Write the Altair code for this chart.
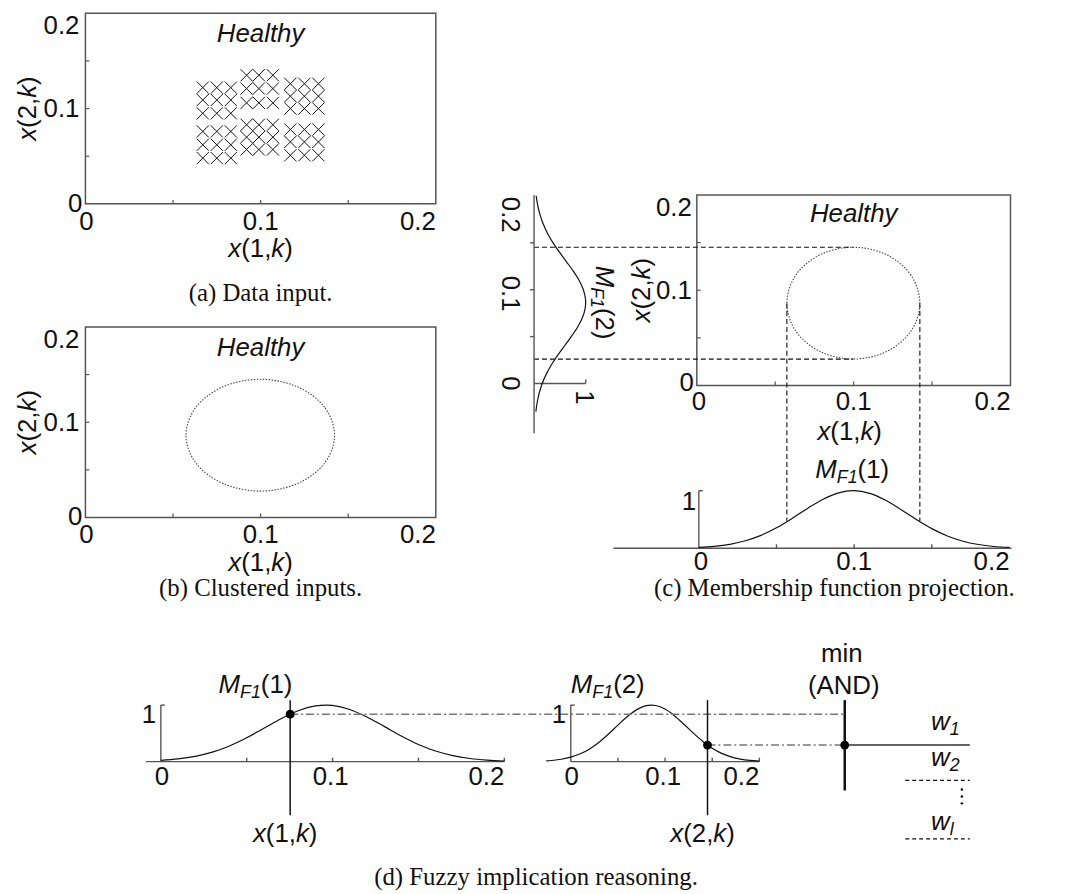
import altair as alt
import pandas as pd

# ---------------- values ----------------
# (a) data input: three column groups, each with an upper and a lower block of samples
grp_x = [[0.067, 0.075, 0.083], [0.092, 0.099, 0.107], [0.117, 0.125, 0.133]]
grp_y = [[0.122, 0.109, 0.095, 0.076, 0.062, 0.048],
         [0.135, 0.121, 0.106, 0.083, 0.070, 0.057],
         [0.126, 0.113, 0.100, 0.078, 0.065, 0.051]]

# cluster boundary (outline points, closed)
ell_x = [0.1422, 0.1365, 0.1210, 0.0998, 0.0786, 0.0631, 0.0574, 0.0631, 0.0786, 0.0998, 0.1210, 0.1365]
ell_y = [0.0864, 0.1158, 0.1372, 0.1451, 0.1372, 0.1158, 0.0864, 0.0570, 0.0356, 0.0277, 0.0356, 0.0570]
ell_cx, ell_cy = 0.0998, 0.0864

# (c) projected membership of x(1,k)
mf1c_x = [0.00, 0.01, 0.02, 0.03, 0.04, 0.05, 0.06, 0.07, 0.08, 0.09, 0.10,
          0.11, 0.12, 0.13, 0.14, 0.15, 0.16, 0.17, 0.18, 0.19, 0.20]
mf1c_mu = [0.015, 0.034, 0.069, 0.130, 0.224, 0.355, 0.517, 0.692, 0.852, 0.963, 1.000,
           0.954, 0.837, 0.675, 0.500, 0.341, 0.213, 0.122, 0.065, 0.031, 0.014]
mf1c_at_edge = 0.47

# (c) projected membership of x(2,k) (drawn vertically)
mf2c_x = [-0.03, -0.02, -0.01, 0.00, 0.01, 0.02, 0.03, 0.04, 0.05, 0.06, 0.07, 0.08,
          0.09, 0.10, 0.11, 0.12, 0.13, 0.14, 0.15, 0.16, 0.17, 0.18, 0.19, 0.20]
mf2c_mu = [0.035, 0.061, 0.101, 0.158, 0.237, 0.337, 0.456, 0.588, 0.721, 0.842, 0.936, 0.990,
           0.997, 0.955, 0.872, 0.757, 0.625, 0.492, 0.368, 0.262, 0.178, 0.115, 0.071, 0.041]

# (d) membership functions
mf1d_x = [0.00, 0.01, 0.02, 0.03, 0.04, 0.05, 0.06, 0.07, 0.08, 0.09, 0.10,
          0.11, 0.12, 0.13, 0.14, 0.15, 0.16, 0.17, 0.18, 0.19, 0.20]
mf1d_mu = [0.023, 0.049, 0.095, 0.169, 0.278, 0.422, 0.589, 0.759, 0.901, 0.985, 0.994,
           0.923, 0.790, 0.624, 0.454, 0.304, 0.188, 0.107, 0.056, 0.027, 0.012]
mf2d_x = [-0.026, -0.02, -0.01, 0.00, 0.01, 0.02, 0.03, 0.04, 0.05, 0.06, 0.07, 0.08,
          0.09, 0.10, 0.11, 0.12, 0.13, 0.14, 0.15, 0.16, 0.17, 0.18, 0.19, 0.20]
mf2d_mu = [0.014, 0.021, 0.043, 0.080, 0.139, 0.226, 0.344, 0.488, 0.646, 0.798, 0.920, 0.990,
           0.993, 0.930, 0.812, 0.662, 0.504, 0.358, 0.237, 0.146, 0.084, 0.045, 0.023, 0.011]
x1k, mu1 = 0.0753, 0.84
x2k, mu2 = 0.145, 0.293
w_min = min(mu1, mu2)

frame_ticks = [0.05, 0.1, 0.15]
mf_ticks = [0.05, 0.1, 0.15, 0.2]
tick_text = ["0", "0.1", "0.2"]

# ---------------- layout ----------------
M = 8
W, H = 1076, 886
FS, SUB_FS, SUB_DY = 26, 18, 5
SANS, SERIF = "Liberation Sans", "Liberation Serif"
INK, AXIS = "#111111", "#555555"


class Panel:
    n = 0

    def __init__(self, xd, xr, yd, yr):
        self.xd, self.xr, self.yd, self.yr = xd, xr, yd, yr
        Panel.n += 1
        self.name = "p%d" % Panel.n

    def px(self, v):
        return self.xr[0] + (v - self.xd[0]) * (self.xr[1] - self.xr[0]) / (self.xd[1] - self.xd[0])

    def py(self, v):
        return self.yr[0] + (v - self.yd[0]) * (self.yr[1] - self.yr[0]) / (self.yd[1] - self.yd[0])

    def vx(self, p):
        return self.xd[0] + (p - self.xr[0]) * (self.xd[1] - self.xd[0]) / (self.xr[1] - self.xr[0])

    def vy(self, p):
        return self.yd[0] + (p - self.yr[0]) * (self.yd[1] - self.yd[0]) / (self.yr[1] - self.yr[0])

    def enc(self, two=False):
        e = {
            "x": alt.X("x:Q", axis=None, scale=alt.Scale(domain=list(self.xd), range=[self.xr[0] - M, self.xr[1] - M], zero=False, nice=False)),
            "y": alt.Y("y:Q", axis=None, scale=alt.Scale(domain=list(self.yd), range=[self.yr[0] - M, self.yr[1] - M], zero=False, nice=False)),
        }
        if two:
            e["x2"] = alt.X2("x2:Q")
            e["y2"] = alt.Y2("y2:Q")
        return e


PA = Panel((0, 0.2), (86, 439), (0, 0.2), (202, 10))
PB = Panel((0, 0.2), (86, 439), (0, 0.2), (518, 326))
PC = Panel((0, 0.2), (702, 1018), (0, 0.2), (385, 193))
PL = Panel((0, 1), (538, 590), (0, 0.2), (383, 194))
PM = Panel((0, 0.2), (704, 1017), (0, 1), (549, 491))
D1 = Panel((0, 0.2), (162, 508), (0, 1), (764, 707))
D2 = Panel((0, 0.2), (575, 765), (0, 1), (764, 707))
D3 = Panel((0, 1), (851, 977), (0, 1), (764, 707))

layers = []


def rules(panel, segs, color=INK, width=1.0, dash=None):
    df = pd.DataFrame(segs, columns=["x", "y", "x2", "y2"])
    kw = dict(color=color, strokeWidth=width)
    if dash:
        kw["strokeDash"] = dash
    layers.append(alt.Chart(df).mark_rule(**kw).encode(**panel.enc(two=True)))


def curve(panel, xs, ys, color=INK, width=1.2, dash=None, interp="cardinal"):
    df = pd.DataFrame({"x": xs, "y": ys, "i": list(range(len(xs)))})
    kw = dict(color=color, strokeWidth=width, interpolate=interp)
    if dash:
        kw["strokeDash"] = dash
    layers.append(alt.Chart(df).mark_line(**kw).encode(order=alt.Order("i:Q"), **panel.enc()))


def dots(panel, xs, ys, size=80):
    df = pd.DataFrame({"x": xs, "y": ys})
    layers.append(alt.Chart(df).mark_circle(size=size, color="#000000", opacity=1).encode(**panel.enc()))


def xticks(panel, vals, up=4):
    y1 = panel.vy(panel.py(0) - up)
    return [(v, 0, v, y1) for v in vals]


def yticks(panel, vals, right=4):
    x1 = panel.vx(panel.px(0) + right)
    return [(0, v, x1, v) for v in vals]


def frame(panel):
    df = pd.DataFrame({"x": [0], "x2": [0.2], "y": [0], "y2": [0.2]})
    layers.append(alt.Chart(df).mark_rect(filled=False, color=AXIS, strokeWidth=1.5).encode(**panel.enc(two=True)))
    rules(panel, xticks(panel, frame_ticks) + yticks(panel, frame_ticks), color=AXIS, width=1.2)


# ---------------- text helper ----------------
AW = {"0": .556, "1": .556, "2": .556, ".": .278, ",": .278, "(": .333, ")": .333, "x": .5, "k": .5,
      "M": .833, "F": .611, "w": .722, "l": .222, " ": .278}
DIRS = {0: ((1, 0), (0, 1)), 90: ((0, 1), (-1, 0)), 270: ((0, -1), (1, 0))}
text_rows = []


def tw(s, fs):
    return sum(AW.get(c, .556) for c in s) * fs


def label(panel, ax, ay, segs, dx=0, dy=0, align="center", angle=0, font=SANS):
    if isinstance(segs, str):
        segs = [(segs, False, False)]
    (tx, ty), (nx, ny) = DIRS[angle]
    bx, by = panel.px(ax) + dx, panel.py(ay) + dy
    if len(segs) == 1:
        t, it, sub = segs[0]
        text_rows.append(dict(p=panel, x=panel.vx(bx), y=panel.vy(by), text=t, it=it, sub=sub,
                              angle=angle, align=align, font=font))
        return
    widths = [tw(t, SUB_FS if sub else FS) for t, it, sub in segs]
    total = sum(widths)
    off = {"left": 0, "center": -total / 2, "right": -total}[align]
    for (t, it, sub), w in zip(segs, widths):
        s = SUB_DY if sub else 0
        X = bx + off * tx + s * nx
        Y = by + off * ty + s * ny
        text_rows.append(dict(p=panel, x=panel.vx(X), y=panel.vy(Y), text=t, it=it, sub=sub,
                              angle=angle, align="left", font=font))
        off += w


def xk(i):
    return [("x", True, False), ("(%d," % i, False, False), ("k", True, False), (")", False, False)]


def mf(i):
    return [("M", True, False), ("F1", True, True), ("(%d)" % i, False, False)]


# ---------------- (a) data input ----------------
frame(PA)
px_, py_ = [], []
for gx, gy in zip(grp_x, grp_y):
    for xv in gx:
        for yv in gy:
            px_.append(xv)
            py_.append(yv)
layers.append(alt.Chart(pd.DataFrame({"x": px_, "y": py_})).mark_point(
    shape="M-1,-1L1,1M-1,1L1,-1", size=150, filled=False, color=INK, strokeWidth=1, opacity=1
).encode(**PA.enc()))

# ---------------- (b) clustered inputs ----------------
frame(PB)
curve(PB, ell_x, ell_y, color="#444444", width=1.1, dash=[1.5, 1.5], interp="cardinal-closed")

# ---------------- (c) projection ----------------
frame(PC)
curve(PC, ell_x, ell_y, color="#444444", width=1.1, dash=[1.5, 1.5], interp="cardinal-closed")
top_i, bot_i = ell_y.index(max(ell_y)), ell_y.index(min(ell_y))
left_i, right_i = ell_x.index(min(ell_x)), ell_x.index(max(ell_x))
x_start = PC.vx(PL.px(0))
y_end = PC.vy(PM.py(mf1c_at_edge))
rules(PC, [(x_start, ell_y[top_i], ell_x[top_i], ell_y[top_i]),
           (x_start, ell_y[bot_i], ell_x[bot_i], ell_y[bot_i]),
           (ell_x[left_i], ell_cy, ell_x[left_i], y_end),
           (ell_x[right_i], ell_cy, ell_x[right_i], y_end)], color=INK, width=1.1, dash=[5, 3])

# left (vertical) membership of x(2,k)
rules(PL, [(0, PL.vy(193), 0, PL.vy(433)), (0, 0, 1, 0), (1, 0, 1, PL.vy(PL.py(0) - 4))]
      + [(0, v, PL.vx(PL.px(0) - 4), v) for v in frame_ticks], color=AXIS, width=1.4)
curve(PL, mf2c_mu, mf2c_x, width=1.2)

# bottom membership of x(1,k)
rules(PM, [(PM.vx(618), 0, PM.vx(1019), 0), (0, 0, 0, 1), (0, 1, PM.vx(PM.px(0) + 4), 1)]
      + xticks(PM, frame_ticks), color=AXIS, width=1.4)
curve(PM, mf1c_x, mf1c_mu, width=1.2)

# ---------------- (d) fuzzy implication ----------------
for P, lo in ((D1, D1.vx(147)), (D2, 0)):
    rules(P, [(lo, 0, 0.2, 0), (0, 0, 0, 1), (0, 1, P.vx(P.px(0) + 4), 1)] + xticks(P, mf_ticks),
          color=AXIS, width=1.4)
curve(D1, mf1d_x, mf1d_mu, width=1.2)
curve(D2, mf2d_x, mf2d_mu, width=1.2)

rules(D3, [(D3.vx(D1.px(x1k)), mu1, 0, mu1), (D3.vx(D2.px(x2k)), mu2, 0, mu2)],
      color="#777777", width=1.5, dash=[8, 3, 2, 3])
rules(D1, [(x1k, D1.vy(702), x1k, D1.vy(818))], color=INK, width=1.5)
rules(D2, [(x2k, D2.vy(702), x2k, D2.vy(818))], color=INK, width=1.5)
rules(D3, [(0, w_min, 1, w_min)], color="#666666", width=2)
rules(D3, [(0, D3.vy(702), 0, D3.vy(793))], color=INK, width=2.5)
w_rows = [D3.py(w_min) + 35.5, D3.py(w_min) + 94.5]
rules(D3, [(D3.vx(912), D3.vy(r), 1, D3.vy(r)) for r in w_rows], color=INK, width=1.1, dash=[4, 3])
dots(D3, [D3.vx(969)] * 3, [D3.vy(792), D3.vy(799), D3.vy(806)], size=6)
dots(D1, [x1k], [mu1])
dots(D2, [x2k], [mu2])
dots(D3, [0], [w_min])

# ---------------- texts ----------------
for P, cap, cap_dy in ((PA, "(a) Data input.", 98), (PB, "(b) Clustered inputs.", 79)):
    label(P, 0, 0.2, tick_text[2], dx=-6, dy=21, align="right")
    label(P, 0, 0.1, tick_text[1], dx=-6, dy=9, align="right")
    label(P, 0, 0, tick_text[0], dx=-3, dy=8, align="right")
    label(P, 0, 0, tick_text[0], dx=1, dy=26)
    label(P, 0.1, 0, tick_text[1], dy=26)
    label(P, 0.2, 0, tick_text[2], dy=26, align="right")
    label(P, 0.1, 0, xk(1), dy=54)
    label(P, 0, 0.1, xk(2), dx=-50, angle=270)
    label(P, 0.1, 0.2, [("Healthy", True, False)], dy=29)
    label(P, 0.1, 0, cap, dy=cap_dy, font=SERIF)

label(PC, 0, 0.2, tick_text[2], dx=-5, dy=21, align="right")
label(PC, 0, 0.1, tick_text[1], dx=-5, dy=9, align="right")
label(PC, 0, 0, tick_text[0], dx=-3, dy=6, align="right")
label(PC, 0, 0, tick_text[0], dx=2, dy=25)
label(PC, 0.1, 0, tick_text[1], dy=25)
label(PC, 0.2, 0, tick_text[2], dy=25, align="right")
label(PC, 0.1, 0, xk(1), dx=-4, dy=55)
label(PC, 0, 0.1, xk(2), dx=-47, angle=270)
label(PC, 0.1, 0.2, [("Healthy", True, False)], dy=27)

label(PL, 0, 0.2, tick_text[2], dx=-32, dy=19, angle=90)
label(PL, 0, 0.1, tick_text[1], dx=-32, dy=4, angle=90)
label(PL, 0, 0, tick_text[0], dx=-32, dy=0, angle=90)
label(PL, 1, 0, "1", dx=-10, dy=14, angle=90)
label(PL, 1, 0.1, mf(2), dx=10, dy=13, angle=90)

label(PM, 0, 1, "1", dx=-10, dy=19)
label(PM, 0, 0, tick_text[0], dx=2, dy=22)
label(PM, 0.1, 0, tick_text[1], dy=22)
label(PM, 0.2, 0, tick_text[2], dy=22, align="right")
label(PM, 0.1, 1, mf(1), dx=-2, dy=-13)
label(PM, 0.1, 0, "(c) Membership function projection.", dx=-20, dy=48, font=SERIF)

for P, i, xv in ((D1, 1, x1k), (D2, 2, x2k)):
    label(P, 0, 1, "1", dx=-12, dy=18)
    label(P, 0, 0, tick_text[0], dx=1, dy=24)
    label(P, 0.1, 0, tick_text[1], dx=-2, dy=24)
    label(P, 0.2, 0, tick_text[2], dy=24, align="right")
    label(P, xv, 0, xk(i), dx=-5, dy=81)
label(D1, x1k, 1, mf(1), dx=-35, dy=-12)
label(D2, 0.0855, 1, mf(2), dx=-44, dy=-12)
label(D2, 0, 0, "(d) Fuzzy implication reasoning.", dx=-35, dy=124, font=SERIF)

label(D3, 0, 1, "min", dx=-3, dy=-43)
label(D3, 0, 1, "(AND)", dx=-1, dy=-11)
label(D3, 1, w_min, [("w", True, False), ("1", True, True)], dx=-39, dy=-15, align="left")
label(D3, 1, w_min, [("w", True, False), ("2", True, True)], dx=-39, dy=21, align="left")
label(D3, 1, w_min, [("w", True, False), ("l", True, True)], dx=-39, dy=86, align="left")

groups = {}
for r in text_rows:
    key = (r["p"].name, r["it"], r["sub"], r["angle"], r["align"], r["font"])
    groups.setdefault(key, (r["p"], []))[1].append(dict(x=r["x"], y=r["y"], text=r["text"]))
for (pname, it, sub, angle, align, font), (P, rows) in groups.items():
    fs = SUB_FS if sub else (25 if font == SERIF else FS)
    kw = dict(align=align, baseline="alphabetic", font=font, fontSize=fs,
              fontStyle="italic" if it else "normal", color=INK)
    if angle:
        kw["angle"] = angle
    layers.append(alt.Chart(pd.DataFrame(rows)).mark_text(**kw).encode(text="text:N", **P.enc()))

chart = alt.layer(*layers).resolve_scale(x="independent", y="independent").properties(
    width=W, height=H, padding=0, autosize="none"
).configure_view(strokeWidth=0)

chart.save("out.html", embed_options={"renderer": "svg", "actions": False})
